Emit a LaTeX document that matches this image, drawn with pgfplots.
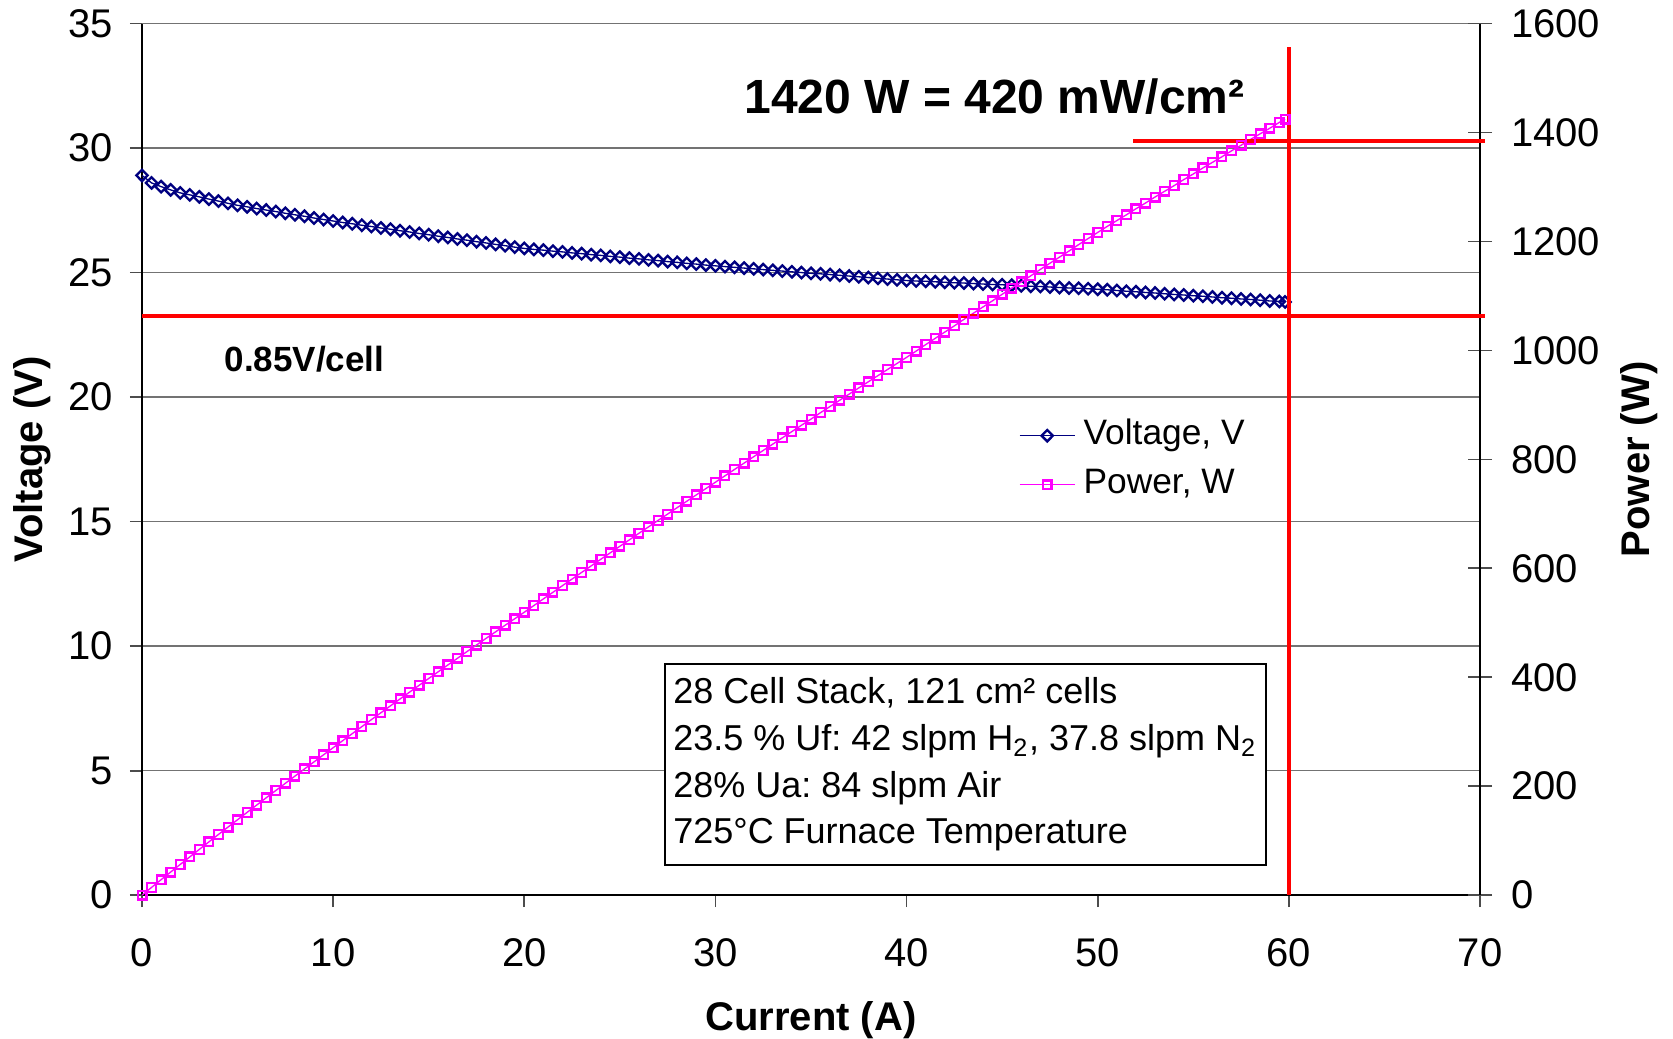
\documentclass[border=0pt]{standalone}
\usepackage{fontspec}
\setmainfont{Liberation Sans}
\usepackage{pgfplots}
\usepackage{pgfplotstable}
\pgfplotsset{compat=1.18}

\definecolor{vnavy}{RGB}{0,0,128}
\definecolor{pmag}{RGB}{255,0,255}
\definecolor{redline}{RGB}{255,0,0}

% current (A), stack voltage (V), power (W)
\pgfplotstableread{
I V P
0.0 28.90 0.00
0.5 28.60 14.30
1.0 28.45 28.45
1.5 28.32 42.48
2.0 28.20 56.40
2.5 28.12 70.30
3.0 28.04 84.12
3.5 27.95 97.83
4.0 27.87 111.48
4.5 27.78 125.01
5.0 27.70 138.50
5.5 27.64 152.02
6.0 27.57 165.42
6.5 27.51 178.82
7.0 27.45 192.15
7.5 27.38 205.35
8.0 27.32 218.56
8.5 27.26 231.71
9.0 27.19 244.71
9.5 27.13 257.74
10.0 27.07 270.70
10.5 27.01 283.61
11.0 26.96 296.56
11.5 26.90 309.35
12.0 26.85 322.20
12.5 26.79 334.88
13.0 26.74 347.62
13.5 26.68 360.18
14.0 26.63 372.82
14.5 26.57 385.27
15.0 26.52 397.80
15.5 26.46 410.13
16.0 26.41 422.56
16.5 26.35 434.78
17.0 26.30 447.10
17.5 26.24 459.20
18.0 26.19 471.42
18.5 26.13 483.41
19.0 26.08 495.52
19.5 26.02 507.39
20.0 25.97 519.40
20.5 25.93 531.57
21.0 25.90 543.90
21.5 25.86 555.99
22.0 25.83 568.26
22.5 25.79 580.28
23.0 25.76 592.48
23.5 25.72 604.42
24.0 25.69 616.56
24.5 25.65 628.43
25.0 25.62 640.50
25.5 25.58 652.29
26.0 25.55 664.30
26.5 25.51 676.02
27.0 25.48 687.96
27.5 25.44 699.60
28.0 25.41 711.48
28.5 25.37 723.05
29.0 25.34 734.86
29.5 25.30 746.35
30.0 25.27 758.10
30.5 25.24 769.82
31.0 25.21 781.51
31.5 25.18 793.17
32.0 25.15 804.80
32.5 25.12 816.40
33.0 25.09 827.97
33.5 25.06 839.51
34.0 25.03 851.02
34.5 25.00 862.50
35.0 24.97 873.95
35.5 24.95 885.73
36.0 24.92 897.12
36.5 24.89 908.49
37.0 24.86 919.82
37.5 24.83 931.13
38.0 24.80 942.40
38.5 24.77 953.65
39.0 24.74 964.86
39.5 24.71 976.05
40.0 24.68 987.20
40.5 24.66 998.73
41.0 24.65 1010.65
41.5 24.63 1022.15
42.0 24.61 1033.62
42.5 24.59 1045.08
43.0 24.58 1056.94
43.5 24.56 1068.36
44.0 24.54 1079.76
44.5 24.52 1091.14
45.0 24.51 1102.95
45.5 24.49 1114.30
46.0 24.47 1125.62
46.5 24.45 1136.93
47.0 24.44 1148.68
47.5 24.42 1159.95
48.0 24.40 1171.20
48.5 24.38 1182.43
49.0 24.37 1194.13
49.5 24.35 1205.33
50.0 24.33 1216.50
50.5 24.31 1227.66
51.0 24.28 1238.28
51.5 24.25 1248.88
52.0 24.23 1259.96
52.5 24.20 1270.50
53.0 24.18 1281.54
53.5 24.15 1292.03
54.0 24.12 1302.48
54.5 24.10 1313.45
55.0 24.07 1323.85
55.5 24.05 1334.78
56.0 24.02 1345.12
56.5 23.99 1355.44
57.0 23.97 1366.29
57.5 23.94 1376.55
58.0 23.92 1387.36
58.5 23.89 1397.57
59.0 23.86 1407.74
59.5 23.84 1418.48
59.8 23.82 1424.44
}\stackdata

\begin{document}
\frenchspacing
\begin{tikzpicture}
\useasboundingbox (-42.6pt,-42.9pt) rectangle (459.3pt,268.55pt);
\pgfplotsset{
  every axis/.append style={
    width=401.4pt, height=261.5pt, scale only axis,
    xmin=0, xmax=70,
    /pgf/number format/assume math mode=true,
    /pgf/number format/1000 sep={},
    scaled ticks=false,
    tick label style={font=\fontsize{12}{14}\selectfont},
    axis line style={line width=0.5pt, black},
    tick style={line width=0.5pt, black!70},
  },
}
% voltage axis
\begin{axis}[
  ymin=0, ymax=35,
  axis x line*=bottom, axis y line*=left,
  xtick={0,10,...,70}, ytick={0,5,...,35},
  tick align=outside, major tick length=3.6pt,
  xticklabel style={yshift=-6pt},
  yticklabel style={xshift=-1.6pt},
  ymajorgrids, grid style={line width=0.45pt, black!55},
  every axis x label/.style={at={(axis description cs:0.5,0)}, yshift=-37.6pt, anchor=center,
    font=\bfseries\fontsize{12}{14}\selectfont},
  every axis y label/.style={at={(axis description cs:0,0.5)}, xshift=-33pt, rotate=90, anchor=center,
    font=\bfseries\fontsize{12}{14}\selectfont},
  xlabel={Current (A)}, ylabel={Voltage (V)},
]
\addplot[color=vnavy, line width=0.4pt, mark=diamond, mark size=1.7pt,
  mark options={line width=0.7pt, solid, xscale=1.33}] table[x=I, y=V] {\stackdata};
\end{axis}
% power axis
\begin{axis}[
  ymin=0, ymax=1600,
  axis x line=none, axis y line*=right,
  ytick={0,200,...,1600},
  tick align=center, major tick length=7.2pt,
  yticklabel style={xshift=2.2pt},
  clip=false,
  every axis y label/.style={at={(axis description cs:1,0.5)}, xshift=47.7pt, rotate=90, anchor=center,
    font=\bfseries\fontsize{12}{14}\selectfont},
  ylabel={Power (W)},
  legend cell align=left,
  legend style={draw=none, fill=none, inner sep=0pt, row sep=0pt,
    at={(axis description cs:0.655,0.556)}, anchor=north west,
    font=\fontsize{10.6}{12}\selectfont,
    nodes={text height=7.6pt, text depth=2.2pt, inner sep=2.45pt}},
  legend image code/.code={\draw[mark repeat=2,mark phase=2,#1] plot coordinates {(0cm,0cm) (0.29cm,0cm) (0.58cm,0cm)};},
]
\addlegendimage{color=vnavy, line width=0.4pt, mark=diamond, mark size=1.7pt,
  mark options={line width=0.7pt, solid, xscale=1.33}}
\addlegendentry{Voltage, V}
\addplot[color=pmag, line width=0.4pt, mark=square, mark size=1.3pt,
  mark options={line width=0.7pt, solid}] table[x=I, y=P] {\stackdata};
\addlegendentry{Power, W}

% red guide lines
\draw[redline, line width=1.2pt] (axis cs:0,1062.9) -- (axis cs:70.28,1062.9);
\draw[redline, line width=1.2pt] (axis cs:51.86,1385) -- (axis cs:70.28,1385);
\draw[redline, line width=1.2pt] (axis cs:60,0) -- (axis cs:60,1557);

\node[font=\bfseries\fontsize{14.4}{16}\selectfont, anchor=center] at (axis cs:44.6,1466) {1420 W = 420 mW/cm²};
\node[font=\bfseries\fontsize{10.5}{12}\selectfont, anchor=west, inner sep=0pt] at (axis cs:4.29,984.6) {0.85V/cell};

\node[draw=black, line width=0.6pt, fill=white, anchor=north west, align=left,
  inner xsep=2.6pt, inner ysep=4.2pt,
  font=\fontsize{10.8}{14}\selectfont] at (axis cs:27.29,426.6)
  {28 Cell Stack, 121 cm² cells\\
   23.5 \% Uf: 42 slpm H\textsubscript{2}, 37.8 slpm N\textsubscript{2}\\
   28\% Ua: 84 slpm Air\\
   725°C Furnace Temperature};
\end{axis}
\end{tikzpicture}
\end{document}
